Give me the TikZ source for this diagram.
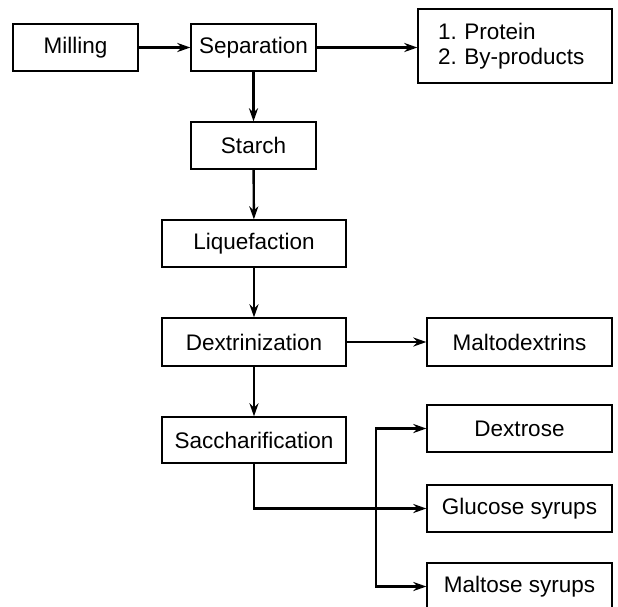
\documentclass[tikz,border=0pt]{standalone}
\usepackage{fontspec}
\setmainfont{Liberation Sans}
\usetikzlibrary{arrows.meta}
\begin{document}
\frenchspacing
\begin{tikzpicture}[x=1pt,y=-1pt,
  box/.style={draw, line width=1.3pt, inner sep=0pt, minimum height=47pt, font=\fontsize{22.5}{27}\selectfont},
  arr/.style={line width=2.4pt, -{Stealth[length=13pt,width=9pt]}}]
\useasboundingbox (0,0) rectangle (618,606);
\node[box, minimum width=125pt] (mill) at (75.5,47.5) {Milling};
\node[box, minimum width=125pt] (sep) at (253.5,47.5) {Separation};
\node[box, minimum width=194pt, minimum height=74pt, align=left, text width=154pt, inner xsep=20pt, font=\fontsize{22.5}{25.5}\selectfont] (prot) at (515,46) {1. Protein\\2. By-products};
\node[box, minimum width=125pt] (starch) at (253.5,145.5) {Starch};
\node[box, minimum width=184pt] (liq) at (254,243.5) {Liquefaction};
\node[box, minimum width=184pt, minimum height=48pt] (dex) at (254,342) {Dextrinization};
\node[box, minimum width=185pt, minimum height=48pt] (malto) at (519.5,342) {Maltodextrins};
\node[box, minimum width=184pt, minimum height=46pt] (sac) at (254,440) {Saccharification};
\node[box, minimum width=185pt] (dxt) at (519.5,428.5) {Dextrose};
\node[box, minimum width=185pt] (glu) at (519.5,508.5) {Glucose syrups};
\node[box, minimum width=185pt] (mal) at (519.5,586.5) {Maltose syrups};
\draw[arr] (mill) -- (sep);
\draw[arr] (sep.east) -- (sep.east -| prot.west);
\draw[arr] (sep) -- (starch);
\draw[arr] (starch) -- (liq);
\draw[arr] (liq) -- (dex);
\draw[arr] (dex) -- (malto);
\draw[arr] (dex) -- (sac);
\draw[arr] (sac.south) |- (glu.west);
\coordinate (j) at (376,508.5);
\draw[arr] (j) |- (dxt.west);
\draw[arr] (j) |- (mal.west);
\end{tikzpicture}
\end{document}
